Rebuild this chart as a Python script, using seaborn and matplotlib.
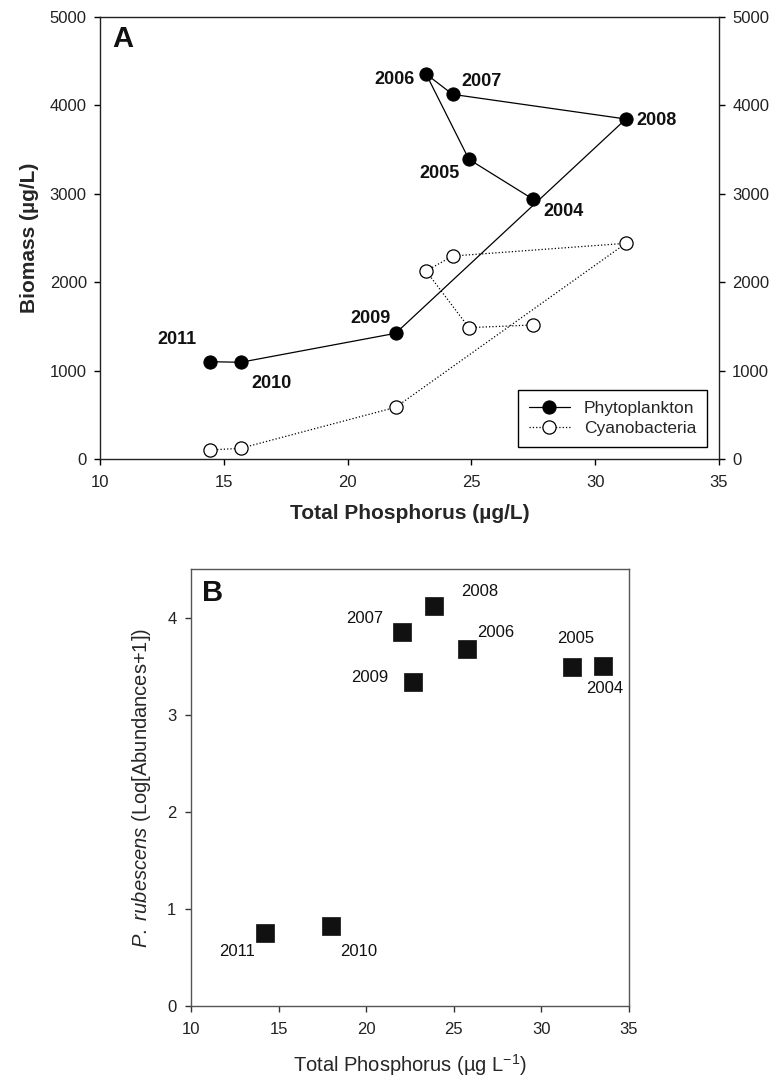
import matplotlib
matplotlib.use("Agg")
import matplotlib.pyplot as plt
import seaborn as sns
import pandas as pd

# ---- data ----
years = [2004, 2005, 2006, 2007, 2008, 2009, 2010, 2011]
tp_a = [27.50, 24.90, 23.17, 24.24, 31.24, 21.94, 15.68, 14.44]
phyto = [2937, 3390, 4355, 4125, 3846, 1422, 1094, 1101]
cyano = [1516, 1486, 2127, 2296, 2440, 585, 121, 102]

tp_b = [33.53, 31.77, 25.74, 22.03, 23.85, 22.68, 18.00, 14.24]
prub = [3.50, 3.49, 3.68, 3.85, 4.12, 3.34, 0.82, 0.75]

# ---- label offsets (points), layout only ----
offs_a = [(22, -9), (-21, -10), (-23, -4), (21, 9), (22, -1), (-18, 11), (22, -15), (-24, 16)]
offs_b = [(1, -16), (2, 21), (20.5, 11.7), (-26.7, 9.9), (32.8, 10.6), (-31.5, 3.4), (20, -18.5), (-20, -13.7)]

sns.set_theme(style="ticks")
plt.rcParams['font.family'] = ['Liberation Sans', 'DejaVu Sans']
plt.rcParams['mathtext.fontset'] = 'custom'
plt.rcParams['mathtext.rm'] = 'Liberation Sans'
plt.rcParams['mathtext.it'] = 'Liberation Sans:italic'
plt.rcParams['mathtext.bf'] = 'Liberation Sans:bold'
plt.rcParams['axes.linewidth'] = 1.0
plt.rcParams['xtick.direction'] = 'out'
plt.rcParams['ytick.direction'] = 'out'

fig = plt.figure(figsize=(7.79, 10.8), dpi=100)

# ---------- Panel A ----------
axA = fig.add_axes([0.12837, 0.575, 0.79461, 0.40926])
dfA = pd.DataFrame({"year": years, "tp": tp_a, "phyto": phyto, "cyano": cyano})
sns.lineplot(data=dfA, x="tp", y="phyto", sort=False, ax=axA, color="black",
             marker="o", markersize=9.5, markerfacecolor="black", markeredgecolor="black",
             linewidth=0.9, label="Phytoplankton")
sns.lineplot(data=dfA, x="tp", y="cyano", sort=False, ax=axA, color="black",
             marker="o", markersize=9.5, markerfacecolor="white", markeredgecolor="black",
             markeredgewidth=0.9, linewidth=0.9, linestyle=":", label="Cyanobacteria")
axA.set_xlim(10, 35)
axA.set_ylim(0, 5000)
axA.set_xticks([10, 15, 20, 25, 30, 35])
axA.set_yticks([0, 1000, 2000, 3000, 4000, 5000])
axA.yaxis.set_ticks_position('both')
axA.tick_params(axis='both', labelsize=12, length=4.5, width=1, colors='black', labelcolor='#222222')
axA.tick_params(axis='x', pad=7)
axA.tick_params(axis='y', pad=5, labelright=True)
for s in axA.spines.values():
    s.set_color('#222222')
axA.set_xlabel("Total Phosphorus (µg/L)", fontsize=15, fontweight='bold', labelpad=10)
axA.set_ylabel("Biomass (µg/L)", fontsize=15, fontweight='bold', labelpad=8)
for yr, x, y, o in zip(years, tp_a, phyto, offs_a):
    axA.annotate(str(yr), (x, y), xytext=o, textcoords='offset points',
                 ha='center', va='center', fontsize=13, fontweight='bold', color='#111111')
axA.text(0.0205, 0.982, "A", transform=axA.transAxes, fontsize=21, fontweight='bold',
         ha='left', va='top', color='#111111')
leg = axA.legend(loc='lower right', fontsize=12.5, frameon=True, fancybox=False,
                 framealpha=1, edgecolor='black', borderaxespad=0.7, handlelength=2.4,
                 borderpad=0.6, labelspacing=0.3)
leg.get_frame().set_linewidth(1.0)

# ---------- Panel B ----------
axB = fig.add_axes([0.24519, 0.0688, 0.56226, 0.40407])
dfB = pd.DataFrame({"year": years, "tp": tp_b, "prub": prub})
sns.scatterplot(data=dfB, x="tp", y="prub", ax=axB, marker="s", s=175,
                color="#111111", edgecolor="#111111", linewidth=0.5, legend=False)
axB.set_xlim(10, 35)
axB.set_ylim(0, 4.5)
axB.set_xticks([10, 15, 20, 25, 30, 35])
axB.set_yticks([0, 1, 2, 3, 4])
axB.tick_params(axis='both', labelsize=12, length=4.5, width=1, colors='#333333', labelcolor='#222222')
axB.tick_params(axis='x', pad=7)
axB.tick_params(axis='y', pad=6)
for s in axB.spines.values():
    s.set_color('#555555')
axB.set_xlabel("Total Phosphorus (µg L$^{-1}$)", fontsize=14.5, labelpad=11)
axB.set_ylabel(r"$\it{P.\ rubescens}$ (Log[Abundances+1])", fontsize=14.5, labelpad=10)
for yr, x, y, o in zip(years, tp_b, prub, offs_b):
    axB.annotate(str(yr), (x, y), xytext=o, textcoords='offset points',
                 ha='center', va='center', fontsize=12, color='#111111')
axB.text(0.0244, 0.977, "B", transform=axB.transAxes, fontsize=21, fontweight='bold',
         ha='left', va='top', color='#111111')

fig.savefig("out.png", dpi=100)
